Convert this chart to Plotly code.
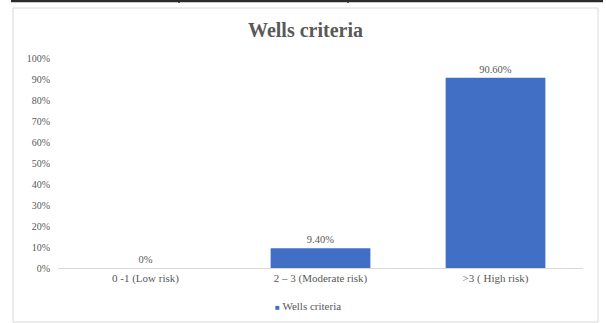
import plotly.graph_objects as go

categories = ["0 -1 (Low risk)", "2 – 3 (Moderate risk)", ">3 ( High risk)"]
values = [0.0, 9.40, 90.60]
value_labels = ["0%", "9.40%", "90.60%"]
series_name = "Wells criteria"
y_ticks = list(range(0, 101, 10))
y_tick_labels = [f"{v}%" for v in y_ticks]

W, H = 606, 323
ML, MR, MT, MB = 58, 23, 58, 55
PW, PH = W - ML - MR, H - MT - MB


def px_x(x):
    return (x - ML) / PW


def px_y(y):
    return (H - MB - y) / PH


FONT = "Liberation Serif"
GREY = "#595959"
BAR = "#416FC6"

fig = go.Figure()
fig.add_trace(go.Bar(
    x=categories, y=values, name=series_name,
    marker=dict(color=BAR, line=dict(width=0)),
    text=value_labels, textposition="outside", cliponaxis=False,
    textfont=dict(family=FONT, size=10.5, color=GREY),
    showlegend=False,
))

shapes = [
    # outer chart frame
    dict(type="rect", xref="paper", yref="paper",
         x0=px_x(13), x1=px_x(598), y0=px_y(322), y1=px_y(8),
         line=dict(color="#D9D9D9", width=1), fillcolor="rgba(0,0,0,0)", layer="below"),
    # table rule along the top edge
    dict(type="line", xref="paper", yref="paper",
         x0=px_x(11), x1=px_x(603), y0=px_y(1), y1=px_y(1),
         line=dict(color="#2b2b2b", width=2.5)),
]
for xv in (179, 348):
    shapes.append(dict(type="line", xref="paper", yref="paper",
                       x0=px_x(xv), x1=px_x(xv), y0=px_y(0), y1=px_y(3),
                       line=dict(color="#2b2b2b", width=1.5)))

annotations = [
    dict(xref="paper", yref="paper", x=px_x(308), y=px_y(306),
         xanchor="center", yanchor="middle", showarrow=False,
         text=f'<span style="color:{BAR};font-size:8px">■</span> {series_name}',
         font=dict(family=FONT, size=11, color=GREY)),
]

fig.update_layout(
    width=W, height=H,
    font=dict(family=FONT, color=GREY),
    margin=dict(l=ML, r=MR, t=MT, b=MB, pad=0),
    paper_bgcolor="white", plot_bgcolor="white",
    title=dict(text="<b>Wells criteria</b>", x=0.5 * (13 + 598) / W, xanchor="center",
               y=1 - 30 / H, yanchor="middle",
               font=dict(family=FONT, size=20, color=GREY)),
    bargap=0.43,
    xaxis=dict(showgrid=False, showline=True, linecolor="#D9D9D9", linewidth=1,
               ticks="", tickfont=dict(family=FONT, size=11, color=GREY)),
    yaxis=dict(range=[0, 100], tickmode="array", tickvals=y_ticks, ticktext=y_tick_labels,
               showgrid=False, showline=False, zeroline=False, ticks="",
               ticklabelstandoff=7,
               tickfont=dict(family=FONT, size=10, color=GREY)),
    shapes=shapes, annotations=annotations,
)

fig.write_html("out.html")
